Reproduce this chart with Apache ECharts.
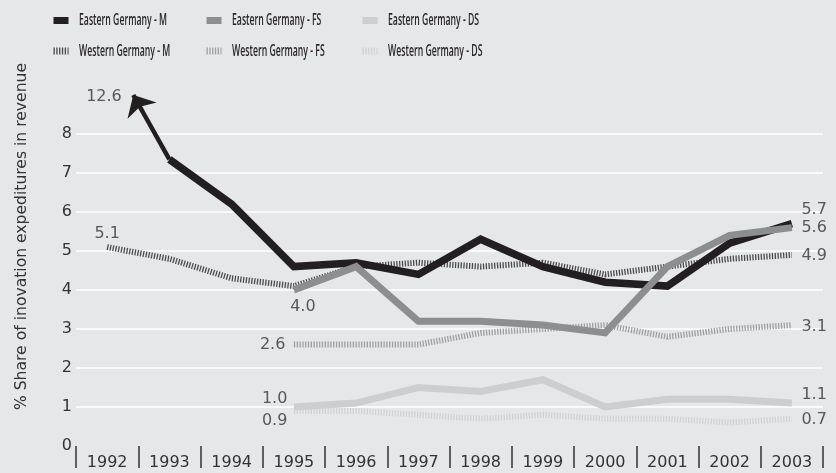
<!DOCTYPE html>
<html><head><meta charset="utf-8">
<script src="https://cdn.jsdelivr.net/npm/echarts@6/dist/echarts.min.js"></script>
<style>html,body{margin:0;padding:0;background:#e6e7e9}#c{width:836px;height:473px}</style>
</head><body><div id="c"></div>
<script>
// ---- data ----
const years = ['1992','1993','1994','1995','1996','1997','1998','1999','2000','2001','2002','2003'];
const eastM  = [12.6, 7.35, 6.2, 4.6, 4.7, 4.4, 5.3, 4.6, 4.2, 4.1, 5.2, 5.7];
const eastFS = [null, null, null, 4.0, 4.6, 3.2, 3.2, 3.1, 2.9, 4.6, 5.4, 5.6];
const eastDS = [null, null, null, 1.0, 1.1, 1.5, 1.4, 1.7, 1.0, 1.2, 1.2, 1.1];
const westM  = [5.1, 4.8, 4.3, 4.1, 4.6, 4.7, 4.6, 4.7, 4.4, 4.6, 4.8, 4.9];
const westFS = [null, null, null, 2.6, 2.6, 2.6, 2.9, 3.0, 3.1, 2.8, 3.0, 3.1];
const westDS = [null, null, null, 0.9, 0.9, 0.8, 0.7, 0.8, 0.7, 0.7, 0.6, 0.7];
const yTicks = [0,1,2,3,4,5,6,7,8];
const yMax = 9;
// tip of the off-scale arrow (x in category-index units, y in axis units)
const offScaleArrowTip = [0.42, 9];

const names = {
  eM:'Eastern Germany - M', eFS:'Eastern Germany - FS', eDS:'Eastern Germany - DS',
  wM:'Western Germany - M', wFS:'Western Germany - FS', wDS:'Western Germany - DS'
};

const FONT = '"DejaVu Sans", sans-serif';
const LEGFONT = '"Open Sans", sans-serif';
const TXT = '#333333';
const hatch = [1.3, 1.5];

function lineSeries(name, data, color, type, width, z) {
  return {
    name, type: 'line', data, symbol: 'none', z, silent: true,
    lineStyle: { color, width, type, join: 'miter', cap: 'butt' },
    itemStyle: { color }, emphasis: { disabled: true }
  };
}

const eastMPlot = eastM.map(v => (v != null && v > yMax) ? null : v);

// value labels
function lab(arr, i, position, distance, offset) {
  return { value: [years[i], arr[i]],
    label: { show: true, position, distance, offset: offset || [0,0], formatter: arr[i].toFixed(1) } };
}
const labelData = [
  lab(westM, 0, 'top', 5),
  lab(eastFS, 3, 'bottom', 8, [9, 0]),
  lab(westFS, 3, 'left', 8),
  lab(eastDS, 3, 'left', 6, [0, -8]),
  lab(westDS, 3, 'left', 6, [0, 10]),
  lab(eastM, 11, 'right', 9, [0, -14]),
  lab(eastFS, 11, 'right', 9, [0, 0]),
  lab(westM, 11, 'right', 9, [0, 1]),
  lab(westFS, 11, 'right', 9, [0, 2]),
  lab(eastDS, 11, 'right', 9, [0, -8]),
  lab(westDS, 11, 'right', 9, [0, 1])
];

// legend: icons via legend component, condensed text via graphic text
const legendCols = [50, 203, 359];
const legendRows = [20.5, 51];
const legendItems = [[names.eM, names.eFS, names.eDS], [names.wM, names.wFS, names.wDS]];
const legends = [], legendTexts = [];
const LEGSIZE = 16;
const mctx = document.createElement('canvas').getContext('2d');
mctx.font = '600 ' + LEGSIZE + 'px ' + LEGFONT;
const legScale = 88 / mctx.measureText(names.eM).width;
legendItems.forEach((row, r) => row.forEach((name, c) => {
  legends.push({
    data: [name], left: legendCols[c], top: legendRows[r] - 3.5, padding: 0,
    itemWidth: 15, itemHeight: 7, selectedMode: false,
    formatter: () => '',
    lineStyle: { width: 7 },
    itemStyle: { color: 'rgba(0,0,0,0)', borderWidth: 0 },
    textStyle: { fontSize: 6, lineHeight: 6 }
  });
  legendTexts.push({
    type: 'text', x: legendCols[c] + 29, y: legendRows[r], scaleX: legScale, silent: true,
    style: { text: name, fontFamily: LEGFONT, fontWeight: 600, fontSize: LEGSIZE, fill: '#2a2627',
      verticalAlign: 'middle', align: 'left' }
  });
}));

const chart = echarts.init(document.getElementById('c'), null, { renderer: 'canvas' });
chart.setOption({
  backgroundColor: '#e6e7e9',
  animation: false,
  legend: legends,
  graphic: legendTexts,
  grid: { left: 76, right: 13, top: 95, bottom: 27 },
  xAxis: [{
    type: 'category', data: years, boundaryGap: true,
    axisLine: { show: false },
    axisTick: { show: true, length: 22, lineStyle: { color: '#333', width: 1.5 } },
    axisLabel: { color: TXT, fontFamily: FONT, fontSize: 16, margin: 9 },
    splitLine: { show: false }
  }, {
    type: 'value', min: -0.5, max: years.length - 0.5, show: false
  }],
  yAxis: {
    type: 'value', min: 0, max: yMax, interval: 1,
    name: '% Share of inovation expeditures in revenue',
    nameLocation: 'middle', nameGap: 46, nameRotate: 90,
    nameTextStyle: { color: TXT, fontFamily: FONT, fontSize: 15.6, padding: [0,0,0,68] },
    axisLine: { show: false }, axisTick: { show: false },
    axisLabel: { color: TXT, fontFamily: FONT, fontSize: 16, margin: 4,
      formatter: v => yTicks.includes(v) ? String(v) : '' },
    splitLine: { show: true, lineStyle: { width: 1.5,
      color: ['rgba(0,0,0,0)','#fff','#fff','#fff','#fff','#fff','#fff','#fff','#fff','rgba(0,0,0,0)'] } }
  },
  series: [
    lineSeries(names.wDS, westDS, '#d2d2d4', hatch, 6, 1),
    lineSeries(names.wFS, westFS, '#9f9fa1', hatch, 6, 2),
    lineSeries(names.wM, westM, '#4a4a4a', hatch, 6, 3),
    lineSeries(names.eM, eastMPlot, '#231f20', 'solid', 7.5, 4),
    lineSeries(names.eFS, eastFS, '#8d8e90', 'solid', 7, 5),
    lineSeries(names.eDS, eastDS, '#cdcecf', 'solid', 7, 6),
    {
      type: 'line', xAxisIndex: 1, z: 7, silent: true, symbol: 'none',
      data: [[1, eastM[1]], offScaleArrowTip],
      lineStyle: { opacity: 0 },
      markLine: {
        silent: true, symbol: ['none', 'arrow'], symbolSize: [25, 18],
        lineStyle: { color: '#231f20', width: 4.5, type: 'solid' },
        label: { show: false },
        data: [[{ coord: [1, eastM[1]] }, { coord: offScaleArrowTip }]]
      }
    },
    {
      type: 'scatter', xAxisIndex: 1, z: 8, silent: true, symbolSize: 1,
      itemStyle: { color: 'rgba(0,0,0,0)' },
      data: [{ value: offScaleArrowTip,
        label: { show: true, position: 'left', distance: 11, offset: [0, 2], formatter: eastM[0].toFixed(1) } }],
      label: { color: TXT, fontFamily: FONT, fontSize: 16 }
    },
    {
      type: 'scatter', z: 8, silent: true, symbolSize: 1,
      itemStyle: { color: 'rgba(0,0,0,0)' },
      label: { color: TXT, fontFamily: FONT, fontSize: 16 },
      data: labelData
    }
  ]
});
</script></body></html>
